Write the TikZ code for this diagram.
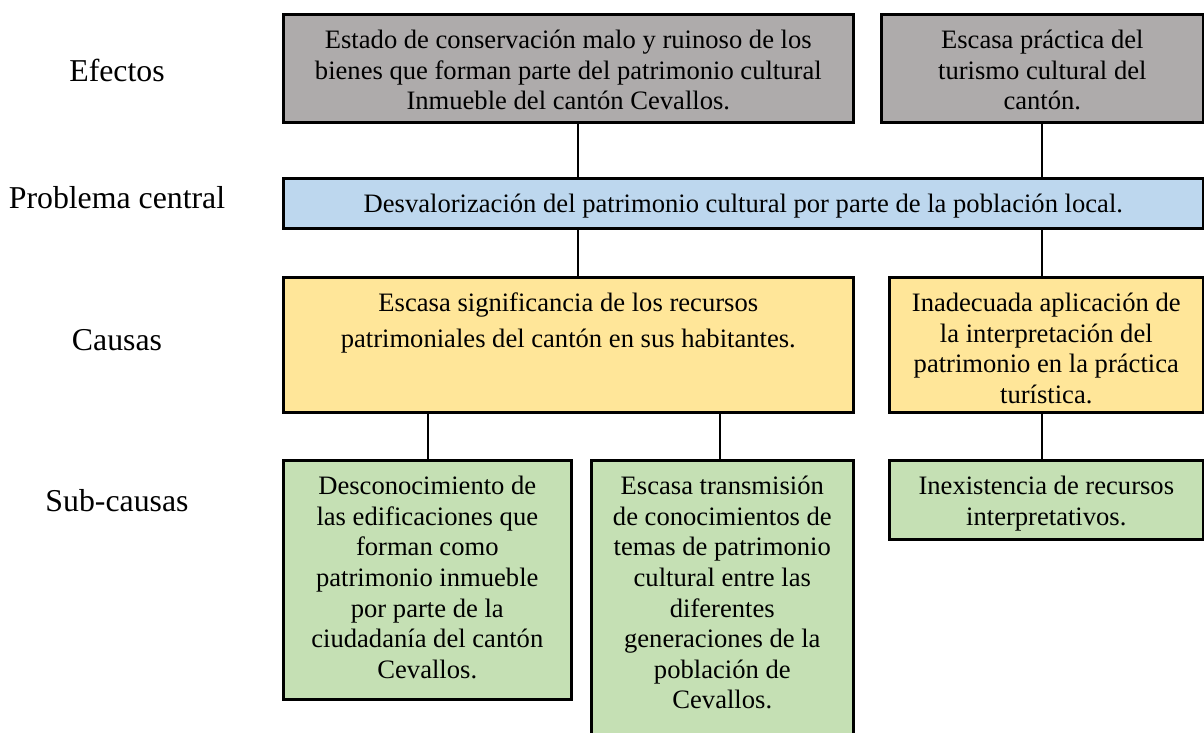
\documentclass[tikz,border=0pt]{standalone}
\usepackage{fontspec}
\setmainfont{Liberation Serif}
\definecolor{grisef}{HTML}{AEABAB}
\definecolor{azulpc}{HTML}{BDD7EE}
\definecolor{amacau}{HTML}{FFE699}
\definecolor{verdesc}{HTML}{C5E0B4}
% texto de una caja: ancho, alto, contenido
\newcommand{\caja}[3]{\parbox[c][#2][t]{#1}{\centering\vspace*{6.5pt}\strut#3}}
\tikzset{
  caja/.style={draw, line width=1.3pt, inner sep=0pt, anchor=north west,
    font=\fontsize{13.3}{15.3}\selectfont},
  nivel/.style={font=\fontsize{15.9}{18}\selectfont},
  enlace/.style={line width=1pt}
}
\begin{document}
\begin{tikzpicture}[x=0.5pt,y=-0.5pt]
\useasboundingbox (0,0) rectangle (1204,733);
\clip (0,0) rectangle (1204,733);

% niveles
\node[nivel] (lefectos) at (117,70) {Efectos};
\node[nivel] (lproblema) at (117,198) {Problema central};
\node[nivel] (lcausas) at (117,340) {Causas};
\node[nivel] (lsubcausas) at (117,501) {Sub-causas};

% efectos
\node[caja, fill=grisef] (efecto1) at (282,13) {\caja{285pt}{54pt}{Estado de conservación malo y ruinoso de los\\ bienes que forman parte del patrimonio cultural\\ Inmueble del cantón Cevallos.}};
\node[caja, fill=grisef] (efecto2) at (880,13) {\caja{161pt}{54pt}{Escasa práctica del\\ turismo cultural del\\ cantón.}};

% problema central
\node[caja, fill=azulpc] (central) at (282,177) {\caja{460pt}{25pt}{Desvalorización del patrimonio cultural por parte de la población local.}};

% causas
\node[caja, fill=amacau] (causa1) at (282,276) {\caja{285pt}{67.5pt}{Escasa significancia de los recursos\\[2.7pt] patrimoniales del cantón en sus habitantes.}};
\node[caja, fill=amacau] (causa2) at (888,276) {\caja{157pt}{67.5pt}{Inadecuada aplicación de\\ la interpretación del\\ patrimonio en la práctica\\ turística.}};

% sub-causas
\node[caja, fill=verdesc] (sub1) at (282,459) {\caja{144pt}{119.5pt}{Desconocimiento de\\ las edificaciones que\\ forman como\\ patrimonio inmueble\\ por parte de la\\ ciudadanía del cantón\\ Cevallos.}};
\node[caja, fill=verdesc] (sub2) at (590,459) {\caja{131pt}{150pt}{Escasa transmisión\\ de conocimientos de\\ temas de patrimonio\\ cultural entre las\\ diferentes\\ generaciones de la\\ población de\\ Cevallos.}};
\node[caja, fill=verdesc] (sub3) at (888,459) {\caja{157pt}{39.5pt}{Inexistencia de recursos\\ interpretativos.}};

% enlaces
\coordinate (colA) at (578,0);
\coordinate (colB) at (1042,0);
\coordinate (colC) at (428,0);
\coordinate (colD) at (720,0);
\draw[enlace] (efecto1.south -| colA) -- (central.north -| colA);
\draw[enlace] (efecto2.south -| colB) -- (central.north -| colB);
\draw[enlace] (central.south -| colA) -- (causa1.north -| colA);
\draw[enlace] (central.south -| colB) -- (causa2.north -| colB);
\draw[enlace] (causa1.south -| colC) -- (sub1.north -| colC);
\draw[enlace] (causa1.south -| colD) -- (sub2.north -| colD);
\draw[enlace] (causa2.south -| colB) -- (sub3.north -| colB);
\end{tikzpicture}
\end{document}
